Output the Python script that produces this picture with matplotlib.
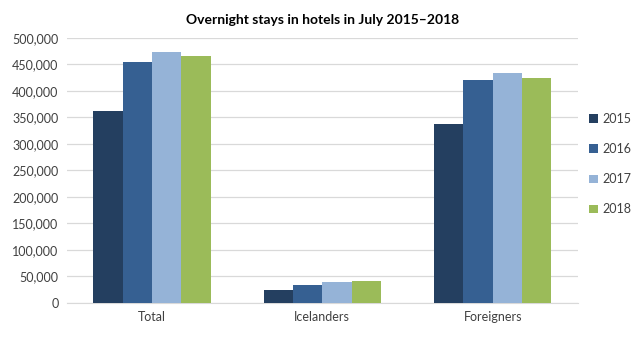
import numpy as np
import matplotlib.pyplot as plt
from matplotlib.ticker import FuncFormatter

plt.rcParams['font.family'] = ['Lato', 'DejaVu Sans']

categories = ["Total", "Icelanders", "Foreigners"]
years = ["2015", "2016", "2017", "2018"]
stays_2015 = [362500, 24500, 338000]
stays_2016 = [453700, 33000, 420500]
stays_2017 = [472500, 38600, 433700]
stays_2018 = [465500, 40500, 424500]
colors = ["#243F60", "#366092", "#95B3D7", "#9BBB59"]

series = [stays_2015, stays_2016, stays_2017, stays_2018]

fig = plt.figure(figsize=(6.42, 3.40), dpi=100)
ax = fig.add_axes([0.104, 0.109, 0.796, 0.78])

x = np.arange(len(categories))
w = 0.172
for i, vals in enumerate(series):
    ax.bar(x + (i - 1.5) * w, vals, width=w, color=colors[i], label=years[i], zorder=3)

ax.set_xlim(-0.5, 2.5)
ax.set_ylim(0, 500000)
ax.set_yticks(np.arange(0, 500001, 50000))
ax.yaxis.set_major_formatter(FuncFormatter(lambda v, p: f"{int(v):,}"))
ax.set_xticks(x)
ax.set_xticklabels(categories)
ax.grid(axis="y", color="#D9D9D9", linewidth=0.9, zorder=0)
for s in ["top", "right", "left"]:
    ax.spines[s].set_visible(False)
ax.spines["bottom"].set_color("#D9D9D9")
ax.tick_params(axis="both", length=0, labelsize=9, colors="#404040", pad=6)

ax.set_title("Overnight stays in hotels in July 2015\u20132018", fontsize=10, fontweight="bold", pad=10)

ax.legend(loc="center left", bbox_to_anchor=(1.0, 0.523), frameon=False, fontsize=9,
          handlelength=0.7, handleheight=0.7, labelspacing=1.45, handletextpad=0.4,
          labelcolor="#404040")

fig.savefig("out.png", dpi=100)
